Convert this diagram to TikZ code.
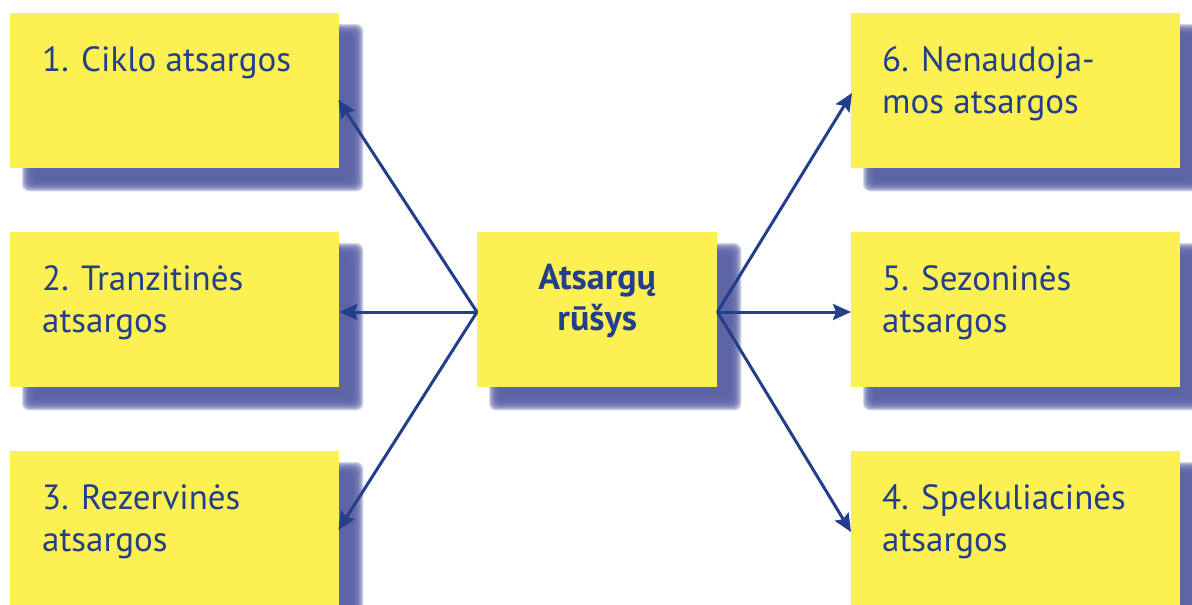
\documentclass[tikz,border=0pt]{standalone}
\usepackage{fontspec}
\setmainfont{PT Sans}
\usetikzlibrary{calc,arrows.meta,backgrounds}

\definecolor{boxyellow}{HTML}{FCF052}
\definecolor{shadowblue}{HTML}{5A62A5}
\definecolor{inkblue}{HTML}{233E8B}

\tikzset{
  card/.style={rectangle, fill=boxyellow, draw=none, inner sep=0pt,
               minimum width=329pt, minimum height=155pt, anchor=north west},
  hub/.style={rectangle, fill=boxyellow, draw=none, inner sep=0pt,
              minimum width=240pt, minimum height=155pt, anchor=north west},
  cardtext/.style={inner sep=0pt, anchor=base west, align=left, text=inkblue,
                   font=\fontsize{35}{42}\selectfont},
  hubtext/.style={inner sep=0pt, anchor=base, align=center, text=inkblue,
                  font=\fontsize{36}{41}\selectfont\bfseries},
  link/.style={draw=inkblue, line width=3pt,
               -{Stealth[length=18pt,width=16pt,inset=3pt]}},
}

% soft drop shadow behind a node: stacked translucent rectangles
\newcommand\softshadow[1]{%
  \foreach \e in {-6,...,6}{%
    \fill[shadowblue, opacity=0.27, rounded corners=7pt]
      ($(#1.north west)+(18-\e,17-\e)$) rectangle ($(#1.south east)+(18+\e,17+\e)$);
  }%
}

\begin{document}
\begin{tikzpicture}[x=1pt, y=-1pt]
\useasboundingbox (0,0) rectangle (1192,605);
\clip (0,0) rectangle (1192,605);

% boxes
\node[card] (b1) at (10,13)  {};
\node[card] (b2) at (10,232) {};
\node[card] (b3) at (10,451) {};
\node[card] (b6) at (851,13)  {};
\node[card] (b5) at (851,232) {};
\node[card] (b4) at (851,451) {};
\node[hub]  (c)  at (477,232) {};

\begin{scope}[on background layer]
  \foreach \n in {b1,b2,b3,b4,b5,b6,c}{\softshadow{\n}}
\end{scope}

% labels (anchored at the baseline of their last line)
\node[cardtext] (t1) at ($(b1.north west)+(32,58)$)  {1. Ciklo atsargos};
\node[cardtext] (t2) at ($(b2.north west)+(32,100)$) {2. Tranzitinės\\atsargos};
\node[cardtext] (t3) at ($(b3.north west)+(32,100)$) {3. Rezervinės\\atsargos};
\node[cardtext] (t6) at ($(b6.north west)+(31,100)$) {6. Nenaudoja-\\mos atsargos};
\node[cardtext] (t5) at ($(b5.north west)+(31,100)$) {5. Sezoninės\\atsargos};
\node[cardtext] (t4) at ($(b4.north west)+(31,100)$) {4. Spekuliacinės\\atsargos};
\node[hubtext]  (tc) at ($(c.north)+(0,98)$) {Atsargų\\rūšys};

% connector end points
\coordinate (cw) at ($(c.north west)+(0,80)$);
\coordinate (ce) at ($(c.north east)+(0,80)$);
\coordinate (e1) at ($(b1.north east)+(-1,87)$);
\coordinate (e2) at ($(b2.north east)+(0,80)$);
\coordinate (e3) at ($(b3.north east)+(-1,79)$);
\coordinate (e6) at ($(b6.north west)+(1,80)$);
\coordinate (e5) at ($(b5.north west)+(0,80)$);
\coordinate (e4) at ($(b4.north west)+(0,81)$);

\draw[link] (cw) -- (e1);
\draw[link] (cw) -- (e2);
\draw[link] (cw) -- (e3);
\draw[link] (ce) -- (e6);
\draw[link] (ce) -- (e5);
\draw[link] (ce) -- (e4);
\end{tikzpicture}
\end{document}
